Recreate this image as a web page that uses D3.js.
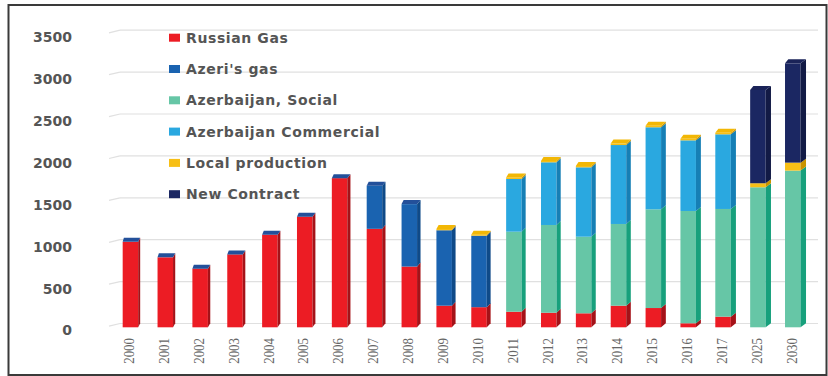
<!DOCTYPE html>
<html>
<head>
<meta charset="utf-8">
<script src="https://cdn.jsdelivr.net/npm/d3@7"></script>
<style>
  html, body { margin: 0; padding: 0; background: #fff; }
  svg { display: block; }
</style>
</head>
<body>
<svg id="chart" width="828" height="376"></svg>
<script>
// Gas supply by source, 2000–2030
const categories = ["2000","2001","2002","2003","2004","2005","2006","2007","2008","2009",
                    "2010","2011","2012","2013","2014","2015","2016","2017","2025","2030"];
const russianGas   = [1020, 835, 700, 870, 1105, 1320, 1780, 1175, 725, 258, 240, 186, 174, 167, 258, 230, 48, 127, 0, 0];
const azeriGas     = [0, 0, 0, 0, 0, 0, 0, 515, 745, 900, 853, 0, 0, 0, 0, 0, 0, 0, 0, 0];
const azSocial     = [0, 0, 0, 0, 0, 0, 0, 0, 0, 0, 0, 955, 1047, 914, 975, 1178, 1340, 1285, 1671, 1870];
const azCommercial = [0, 0, 0, 0, 0, 0, 0, 0, 0, 0, 0, 629, 748, 828, 942, 979, 843, 891, 0, 0];
const localProd    = [0, 0, 0, 0, 0, 0, 0, 0, 0, 15, 12, 18, 16, 16, 18, 18, 18, 18, 48, 95];
const newContract  = [0, 0, 0, 0, 0, 0, 0, 0, 0, 0, 0, 0, 0, 0, 0, 0, 0, 0, 1113, 1185];
const yTicks = [0, 500, 1000, 1500, 2000, 2500, 3000, 3500];

const seriesNames = ["Russian Gas", "Azeri's gas", "Azerbaijan, Social",
                     "Azerbaijan Commercial", "Local production", "New Contract"];
const seriesValues = [russianGas, azeriGas, azSocial, azCommercial, localProd, newContract];
const seriesColors = ["#ec1c24", "#1a63b0", "#66c6a6", "#2aa8e0", "#f7bf16", "#1b2762"];
const sideColors   = ["#a51218", "#0f4a88", "#17a07c", "#167fb5", "#c99400", "#121a45"];

const rows = categories.map((c, i) => {
  const r = { cat: c };
  seriesNames.forEach((s, k) => r[s] = seriesValues[k][i]);
  return r;
});
const stacked = d3.stack().keys(seriesNames)(rows);

const svg = d3.select("#chart");
svg.append("rect").attr("x", 0).attr("y", 0).attr("width", 828).attr("height", 376).attr("fill", "#fff");

const x = d3.scaleBand().domain(categories).range([113, 810.2]).padding(0);
const y = d3.scaleLinear().domain([0, 3500]).range([327.3, 34]);

// back-wall gridlines with a short slanted side-wall piece
const grid = svg.append("g");
yTicks.forEach(t => {
  grid.append("line")
    .attr("x1", 120).attr("x2", 818)
    .attr("y1", y(t) - 3.8).attr("y2", y(t) - 3.8)
    .attr("stroke", "#e0e0e0").attr("stroke-width", 1.2);
  grid.append("line")
    .attr("x1", 109).attr("x2", 120)
    .attr("y1", y(t) - 1.2).attr("y2", y(t) - 3.8)
    .attr("stroke", "#e0e0e0").attr("stroke-width", 1.2);
});

// value axis labels
const yAxis = svg.append("g")
  .attr("transform", "translate(72,3.2)")
  .call(d3.axisLeft(y).tickValues(yTicks).tickSize(0).tickPadding(0).tickFormat(d3.format("d")));
yAxis.select(".domain").remove();
yAxis.selectAll("text")
  .attr("fill", "#555")
  .style("font-family", "'DejaVu Sans', sans-serif")
  .style("font-weight", "bold")
  .style("font-size", "14px");

// pseudo-3D stacked columns
const fw = 15.5;       // front face width
const depthY = 4;      // top face depth (vertical)
const bars = svg.append("g");
categories.forEach((c, i) => {
  const x0 = x(c) + (x.bandwidth() - fw) / 2;
  const sw = 2 + 3.5 * i / (categories.length - 1); // side face width grows to the right
  let topY = y(0), topKey = null;
  stacked.forEach((layer, k) => {
    const d = layer[i];
    if (d[1] - d[0] <= 0) return;
    const yb = y(d[0]), yt = y(d[1]);
    bars.append("rect")
      .attr("x", x0).attr("y", yt).attr("width", fw).attr("height", yb - yt)
      .attr("fill", seriesColors[k]);
    bars.append("path")
      .attr("d", `M${x0 + fw},${yb} L${x0 + fw},${yt} L${x0 + fw + sw},${yt - depthY} L${x0 + fw + sw},${yb - depthY} Z`)
      .attr("fill", sideColors[k]);
    topY = yt; topKey = k;
  });
  // top face: yellow or navy where those series sit on top, otherwise blue
  let capColor = "#23509a";
  if (topKey === 4) capColor = "#f2b705";
  if (topKey === 5) capColor = "#1a2358";
  bars.append("path")
    .attr("d", `M${x0},${topY} L${x0 + fw},${topY} L${x0 + fw + sw},${topY - depthY} L${x0 + sw * 0.6},${topY - depthY} Z`)
    .attr("fill", capColor);
});

// category axis, vertical labels
const xAxis = svg.append("g")
  .attr("transform", "translate(-1.5,338)")
  .call(d3.axisBottom(x).tickSize(0).tickPadding(0));
xAxis.select(".domain").remove();
xAxis.selectAll("text")
  .attr("x", 0).attr("y", 0).attr("dy", "0.35em")
  .attr("transform", "rotate(-90) scale(0.86,1)")
  .style("text-anchor", "end")
  .attr("fill", "#666")
  .style("font-family", "'Liberation Serif', serif")
  .style("font-size", "15px");

// legend
const legend = svg.append("g");
seriesNames.forEach((s, k) => {
  const cy = 37.7 + k * 31.3;
  legend.append("rect")
    .attr("x", 169).attr("y", cy - 4).attr("width", 11).attr("height", 8)
    .attr("fill", seriesColors[k]);
  legend.append("text")
    .attr("x", 186).attr("y", cy).attr("dy", "0.36em")
    .attr("fill", "#555")
    .style("font-family", "'DejaVu Sans', sans-serif")
    .style("font-weight", "bold")
    .style("font-size", "14px")
    .style("letter-spacing", "0.6px")
    .text(s);
});

// outer frame
svg.append("rect")
  .attr("x", 8.5).attr("y", 5).attr("width", 818).attr("height", 370)
  .attr("fill", "none").attr("stroke", "#3a3a3a").attr("stroke-width", 2);
</script>
</body>
</html>
